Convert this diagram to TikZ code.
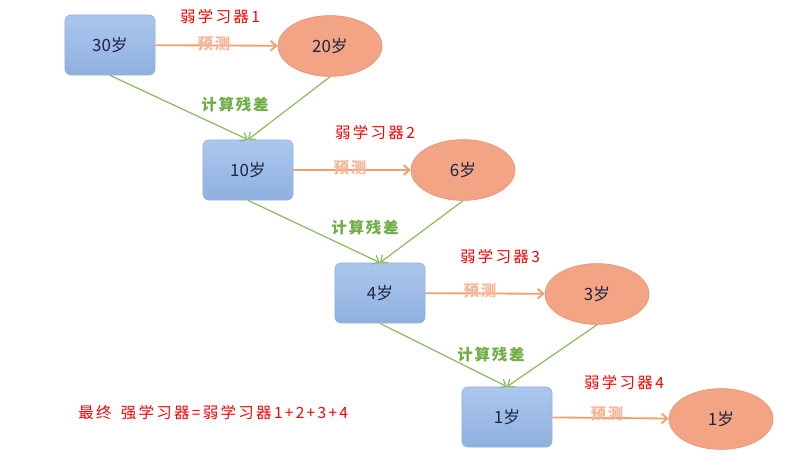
\documentclass[tikz,border=0pt]{standalone}
\usepackage{fontspec}
\setmainfont{Noto Sans CJK SC}
\newfontfamily\redfont[LetterSpace=15]{Noto Sans CJK SC}
\newfontfamily\grnfont[LetterSpace=12]{Noto Sans CJK SC}
\usetikzlibrary{arrows.meta,shapes.geometric}
\definecolor{boxTop}{RGB}{172,199,238}
\definecolor{boxBot}{RGB}{143,176,222}
\definecolor{boxEdge}{RGB}{150,178,218}
\definecolor{ellFill}{RGB}{243,164,132}
\definecolor{ellEdge}{RGB}{232,150,120}
\definecolor{ageTxt}{RGB}{28,38,64}
\definecolor{prdLine}{RGB}{240,160,110}
\definecolor{prdTxt}{RGB}{247,182,152}
\definecolor{resLine}{RGB}{140,190,100}
\definecolor{resTxt}{RGB}{112,173,71}

\begin{document}
\begin{tikzpicture}[
  x=0.025cm, y=-0.025cm,
  inp/.style={draw=boxEdge, line width=0.5pt, rounded corners=0.15cm,
              top color=boxTop, bottom color=boxBot,
              minimum width=2.25cm, minimum height=1.5cm,
              text=ageTxt, font=\fontsize{12}{14}\selectfont},
  pre/.style={ellipse, draw=ellEdge, line width=0.5pt, fill=ellFill, inner sep=0pt,
              minimum width=2.6cm, minimum height=1.52cm,
              text=ageTxt, font=\fontsize{12}{14}\selectfont},
  lrn/.style={text=red, font=\redfont\fontsize{11}{13}\selectfont, inner sep=0pt},
  res/.style={text=resTxt, font=\grnfont\bfseries\fontsize{11}{13}\selectfont, inner sep=0pt},
  prd/.style={text=prdTxt, font=\grnfont\bfseries\fontsize{11}{13}\selectfont, inner sep=0pt},
  fp/.style={-{Straight Barb[length=4pt,width=7pt]}, line width=1.3pt, prdLine},
  fr/.style={-{Straight Barb[length=4pt,width=7pt]}, line width=0.9pt, resLine}
]
\useasboundingbox (0,0) rectangle (800,467);

\node[inp] (in1) at (110,45)  {30岁};
\node[pre] (out1) at (330,46) {20岁};
\node[inp] (in2) at (248,170) {10岁};
\node[pre] (out2) at (463,170) {6岁};
\node[inp] (in3) at (380,293) {4岁};
\node[pre] (out3) at (597,294) {3岁};
\node[inp] (in4) at (507,417) {1岁};
\node[pre] (out4) at (721,419) {1岁};

\draw[fp] (in1) -- (out1);
\draw[fp] (in2) -- (out2);
\draw[fp] (in3) -- (out3);
\draw[fp] (in4) -- (out4);

\draw[fr] (in1.south) -- (in2.north);
\draw[fr] (out1.south) -- (in2.north);
\draw[fr] (in2.south) -- (in3.north);
\draw[fr] (out2.south) -- (in3.north);
\draw[fr] (in3.south) -- (in4.north);
\draw[fr] (out3.south) -- (in4.north);

\node[prd] (p1) at (214,44)  {预测};
\node[prd] (p2) at (350,168) {预测};
\node[prd] (p3) at (480,291) {预测};
\node[prd] (p4) at (607,414) {预测};

\node[res] (r1) at (235,105) {计算残差};
\node[res] (r2) at (365,228) {计算残差};
\node[res] (r3) at (491,355) {计算残差};

\node[lrn] (w1) at (220,17)  {弱学习器1};
\node[lrn] (w2) at (375,133) {弱学习器2};
\node[lrn] (w3) at (500,257) {弱学习器3};
\node[lrn] (w4) at (624,383) {弱学习器4};

\node[lrn, anchor=west] (fin) at (78,413) {最终\hspace{0.6em}强学习器=弱学习器1+2+3+4};

\end{tikzpicture}
\end{document}
